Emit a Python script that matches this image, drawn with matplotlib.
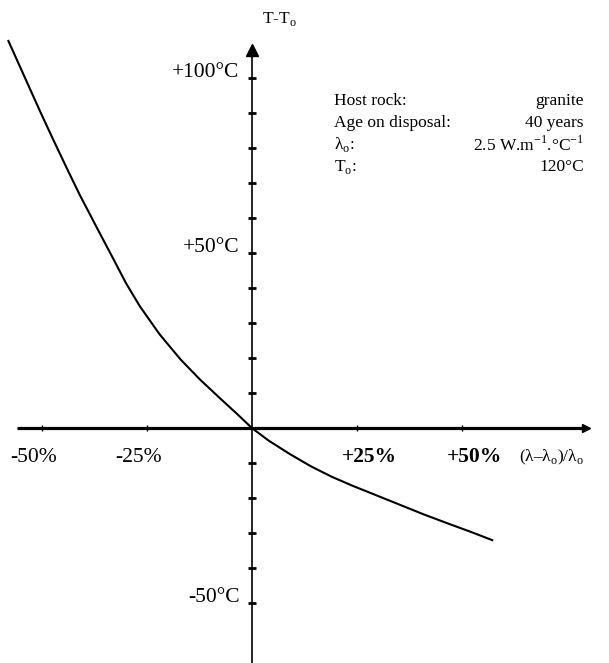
import matplotlib.pyplot as plt
import numpy as np

plt.rcParams['font.family'] = ['Liberation Serif', 'DejaVu Serif']
plt.rcParams['mathtext.fontset'] = 'custom'
plt.rcParams['mathtext.rm'] = 'Liberation Serif'

# curve: (lambda - lambda0)/lambda0 in %, T - T0 in degC
dl = [-58, -55, -52, -50, -47.4, -44, -41, -37, -33, -30, -26.7, -22, -17,
      -12.4, -7.6, -3.6, 0, 4, 9, 14, 19, 24, 29, 35, 41, 47, 52, 57.2]
dT = [110.6, 102.6, 94.6, 89.3, 82.6, 74.0, 66.6, 57.4, 48.3, 41.4, 34.8, 26.8, 19.6,
      13.9, 8.5, 4.1, 0, -3.6, -7.4, -10.9, -13.9, -16.5, -18.9, -21.8, -24.7, -27.4, -29.6, -32.0]

x_ticks = [-50, -25, 25, 50]
x_labels = ['-50%', '-25%', '+25%', '+50%']
y_ticks = [v for v in range(-50, 101, 10) if v != 0]
y_labeled = [100, 50, -50]
y_labels = ['+100°C', '+50°C', '-50°C']

info_left = ['Host rock:', 'Age on disposal:', 'λ$_\\mathregular{o}$:', 'T$_\\mathregular{o}$:']
info_right = ['granite', '40 years', '2.5 W.m$^{-1}$.°C$^{-1}$', '120°C']

fig = plt.figure(figsize=(6.09, 6.63), dpi=100)
ax = fig.add_axes([0, 0, 1, 1])
ax.set_xlim(-60, 85)
ax.set_ylim(-67.1, 122.3)
ax.axis('off')

# axes drawn by hand
ax.plot([-56, 79.5], [0, 0], color='black', lw=2.3, solid_capstyle='butt')
ax.plot([79.5], [0], marker='>', color='black', ms=6)
ax.plot([0, 0], [-70, 106], color='black', lw=1.2)
ax.plot([0], [108], marker='^', color='black', ms=9)
ax.plot(np.zeros(len(y_ticks)), y_ticks, ls='none', marker='_', color='black', ms=6, mew=2)
ax.plot(x_ticks, np.zeros(len(x_ticks)), ls='none', marker='|', color='black', ms=4, mew=1)

ax.plot(dl, dT, color='black', lw=1.5)

for v, s in zip(y_labeled, y_labels):
    ax.text(-3, v + 1.5, s, ha='right', va='center', fontsize=15.5)
for v, s in zip(x_ticks, x_labels):
    bold = s.startswith('+')
    ax.text(v + (3 if bold else -2), -8.3, s, ha='center', va='center', fontsize=15.5,
            fontweight='bold' if bold else 'normal')
ax.text(71.4, -8.3, '(λ–λ$_\\mathregular{o}$)/λ$_\\mathregular{o}$',
        ha='center', va='center', fontsize=12.5)
ax.text(2.5, 117, 'T-T$_\\mathregular{o}$', ha='left', va='center', fontsize=12.5)

for i, (a, b) in enumerate(zip(info_left, info_right)):
    yy = 93.5 - i * 6.3
    ax.text(19.5, yy, a, ha='left', va='center', fontsize=12.5)
    ax.text(79, yy, b, ha='right', va='center', fontsize=12.5)

fig.savefig('out.png', dpi=100)
